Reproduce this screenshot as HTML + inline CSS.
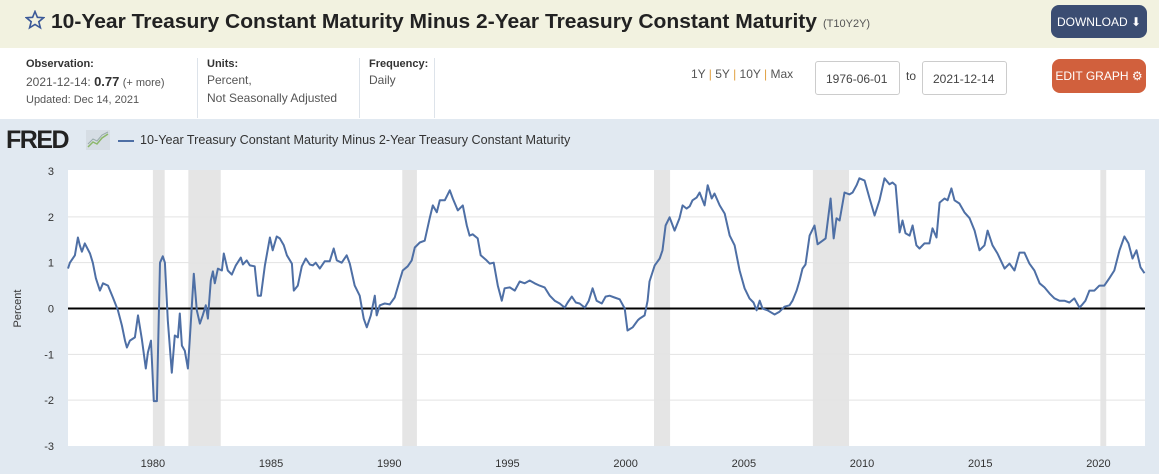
<!DOCTYPE html>
<html><head><meta charset="utf-8">
<style>
*{box-sizing:border-box;margin:0;padding:0}
body{width:1159px;height:474px;overflow:hidden;font-family:"Liberation Sans","DejaVu Sans",sans-serif;background:#fff;position:relative;color:#333}
.abs{position:absolute}
#hdr{left:0;top:0;width:1159px;height:48px;background:#f2f2e0}
.btn{color:#fff;border-radius:8px;font-size:12px;display:flex;align-items:center;justify-content:center;white-space:nowrap}
#dl{left:1051px;top:5px;width:96px;height:33px;background:#3b4d72}
#eg{left:1052px;top:59px;width:94px;height:34px;background:#d1603d}
.lab{font-size:11px;font-weight:bold;color:#333}
.val{font-size:12px;color:#555;line-height:18px}
.div{width:1px;background:#dde3ea;top:58px;height:60px}
.inp{border:1px solid #ccc;border-radius:3px;height:34px;top:61px;font-size:12px;color:#444;padding:10px 0 0 10px}
#band{left:0;top:119px;width:1159px;height:355px;background:#e1e9f1}
</style></head><body>
<div class="abs" id="hdr"></div>
<svg class="abs" style="left:25px;top:10px" width="20" height="20"><polygon points="10,1.5 12.4,7.3 18.6,7.7 13.8,11.7 15.4,17.8 10,14.4 4.6,17.8 6.2,11.7 1.4,7.7 7.6,7.3" fill="none" stroke="#3b5998" stroke-width="1.6"/></svg>
<svg class="abs" style="left:0;top:0" width="900" height="48"><text x="51" y="28" font-family="Liberation Sans, sans-serif" font-weight="bold" font-size="20" fill="#222" textLength="766" lengthAdjust="spacingAndGlyphs">10-Year Treasury Constant Maturity Minus 2-Year Treasury Constant Maturity</text><text x="823" y="27" font-family="Liberation Sans, sans-serif" font-size="11" fill="#555">(T10Y2Y)</text></svg>
<div class="abs btn" id="dl">DOWNLOAD&nbsp;⬇</div>

<div class="abs lab" style="left:26px;top:58px">Observation:</div>
<div class="abs val" style="left:26px;top:73px">2021-12-14: <b style="font-size:13px;color:#333">0.77</b> <span style="font-size:11px">(+ more)</span></div>
<div class="abs val" style="left:26px;top:91px;font-size:11px">Updated: Dec 14, 2021</div>
<div class="abs div" style="left:197px"></div>
<div class="abs lab" style="left:207px;top:58px">Units:</div>
<div class="abs val" style="left:207px;top:71px">Percent,<br>Not Seasonally Adjusted</div>
<div class="abs div" style="left:359px"></div>
<div class="abs lab" style="left:369px;top:58px">Frequency:</div>
<div class="abs val" style="left:369px;top:71px">Daily</div>
<div class="abs div" style="left:434px"></div>

<div class="abs" style="left:691px;top:67px;font-size:12px;color:#555">1Y <span style="color:#e0a040">|</span> 5Y <span style="color:#e0a040">|</span> 10Y <span style="color:#e0a040">|</span> Max</div>
<div class="abs inp" style="left:815px;width:85px">1976-06-01</div>
<div class="abs" style="left:906px;top:69px;font-size:12px;color:#444">to</div>
<div class="abs inp" style="left:922px;width:85px">2021-12-14</div>
<div class="abs btn" id="eg">EDIT GRAPH&nbsp;⚙</div>

<div class="abs" id="band"></div>
<div class="abs" style="left:6px;top:126px;font-size:25px;font-weight:900;color:#222;letter-spacing:-1.5px">FRED</div>
<svg class="abs" style="left:86px;top:130px" width="24" height="20"><rect width="24" height="20" fill="#d6dde4"/><polyline points="2,17 7,12 11,14 16,8 22,4" fill="none" stroke="#8cb76a" stroke-width="1.5"/><polyline points="2,14 7,9 11,11 16,5 22,2" fill="none" stroke="#9aa" stroke-width="1"/></svg>
<div class="abs" style="left:118px;top:140px;width:16px;height:2px;background:#4e6fa5"></div>
<div class="abs" style="left:140px;top:133px;font-size:12.6px;color:#333;white-space:nowrap">10-Year Treasury Constant Maturity Minus 2-Year Treasury Constant Maturity</div>

<svg id="chart" class="abs" style="left:0;top:0" width="1159" height="474"></svg>
<script>
const years=[1976.41,1976.49,1976.70,1976.83,1976.91,1977.00,1977.12,1977.34,1977.46,1977.59,1977.76,1977.89,1978.10,1978.31,1978.52,1978.69,1978.82,1978.90,1979.03,1979.24,1979.37,1979.53,1979.70,1979.79,1979.92,1980.04,1980.17,1980.30,1980.42,1980.51,1980.63,1980.80,1980.93,1981.06,1981.14,1981.23,1981.35,1981.48,1981.56,1981.73,1981.86,1981.99,1982.11,1982.24,1982.33,1982.45,1982.54,1982.62,1982.75,1982.92,1983.00,1983.17,1983.34,1983.51,1983.72,1983.81,1983.97,1984.10,1984.31,1984.44,1984.57,1984.74,1984.95,1985.07,1985.24,1985.37,1985.54,1985.67,1985.88,1985.96,1986.13,1986.30,1986.47,1986.64,1986.77,1986.89,1987.06,1987.27,1987.48,1987.65,1987.78,1987.99,1988.20,1988.33,1988.54,1988.75,1988.92,1989.05,1989.22,1989.39,1989.47,1989.60,1989.81,1990.02,1990.23,1990.44,1990.57,1990.78,1990.95,1991.08,1991.29,1991.50,1991.71,1991.84,1992.01,1992.14,1992.35,1992.56,1992.69,1992.90,1993.11,1993.28,1993.40,1993.53,1993.74,1993.87,1994.12,1994.25,1994.42,1994.59,1994.76,1994.88,1995.10,1995.31,1995.52,1995.73,1995.94,1996.15,1996.36,1996.57,1996.79,1997.00,1997.21,1997.42,1997.55,1997.72,1997.89,1998.05,1998.27,1998.44,1998.60,1998.77,1998.99,1999.15,1999.32,1999.53,1999.75,1999.96,2000.08,2000.30,2000.51,2000.59,2000.80,2000.93,2001.01,2001.23,2001.44,2001.56,2001.69,2001.86,2002.07,2002.28,2002.41,2002.58,2002.71,2002.83,2003.00,2003.13,2003.34,2003.47,2003.64,2003.76,2003.98,2004.19,2004.40,2004.61,2004.82,2005.03,2005.24,2005.41,2005.54,2005.67,2005.79,2006.00,2006.30,2006.51,2006.72,2006.93,2007.06,2007.23,2007.36,2007.48,2007.61,2007.78,2007.99,2008.12,2008.33,2008.46,2008.67,2008.80,2008.92,2009.05,2009.26,2009.47,2009.60,2009.77,2009.89,2010.11,2010.32,2010.53,2010.74,2010.95,2011.16,2011.29,2011.42,2011.59,2011.71,2011.84,2012.01,2012.14,2012.30,2012.43,2012.64,2012.85,2012.98,2013.15,2013.28,2013.49,2013.62,2013.78,2013.91,2014.12,2014.33,2014.55,2014.76,2014.97,2015.18,2015.31,2015.52,2015.73,2016.03,2016.24,2016.45,2016.66,2016.87,2017.08,2017.29,2017.51,2017.72,2017.93,2018.14,2018.35,2018.56,2018.77,2018.98,2019.20,2019.32,2019.45,2019.62,2019.83,2020.04,2020.25,2020.46,2020.67,2020.89,2021.10,2021.27,2021.44,2021.61,2021.78,2021.95];
const spread=[0.87,1.00,1.16,1.55,1.38,1.24,1.42,1.20,1.00,0.66,0.39,0.55,0.50,0.24,-0.04,-0.37,-0.70,-0.85,-0.70,-0.63,-0.15,-0.66,-1.31,-0.96,-0.70,-2.02,-2.02,1.00,1.14,1.00,-0.26,-1.40,-0.59,-0.63,-0.11,-0.81,-0.92,-1.31,-0.70,0.76,-0.04,-0.33,-0.15,0.07,-0.22,0.61,0.81,0.55,0.87,0.83,1.20,0.83,0.74,0.94,1.11,0.96,1.05,0.94,0.92,0.28,0.28,0.94,1.55,1.27,1.57,1.53,1.38,1.16,0.98,0.39,0.50,0.92,1.09,0.96,0.94,1.00,0.87,1.03,1.03,1.31,1.05,1.00,1.16,0.98,0.50,0.28,-0.22,-0.41,-0.15,0.28,-0.15,0.07,0.11,0.09,0.24,0.61,0.83,0.92,1.05,1.33,1.44,1.48,1.97,2.25,2.10,2.36,2.36,2.58,2.40,2.14,2.25,1.81,1.59,1.62,1.53,1.16,1.05,0.98,1.00,0.50,0.17,0.44,0.46,0.39,0.59,0.55,0.61,0.55,0.50,0.46,0.28,0.17,0.11,0.02,0.13,0.26,0.13,0.11,0.02,0.17,0.44,0.17,0.11,0.26,0.28,0.24,0.20,0.00,-0.48,-0.41,-0.26,-0.22,-0.15,0.17,0.59,0.94,1.09,1.27,1.81,1.99,1.70,1.97,2.25,2.18,2.23,2.36,2.42,2.53,2.25,2.69,2.40,2.51,2.25,2.07,1.59,1.38,0.83,0.44,0.22,0.13,-0.04,0.17,0.00,-0.04,-0.13,-0.07,0.04,0.07,0.17,0.39,0.61,0.87,0.96,1.59,1.81,1.40,1.48,1.53,2.40,1.53,1.97,1.92,2.53,2.49,2.53,2.69,2.84,2.79,2.40,2.03,2.36,2.84,2.71,2.75,2.69,1.66,1.92,1.64,1.59,1.81,1.38,1.31,1.42,1.42,1.75,1.55,2.31,2.40,2.36,2.62,2.36,2.29,2.10,1.97,1.70,1.27,1.38,1.70,1.38,1.20,0.87,0.98,0.83,1.22,1.22,0.98,0.83,0.55,0.46,0.33,0.22,0.17,0.17,0.13,0.22,0.02,0.09,0.17,0.39,0.39,0.50,0.50,0.66,0.83,1.27,1.57,1.42,1.09,1.27,0.90,0.77];
const recessionStarts=[1980.0,1981.5,1990.55,2001.2,2007.92,2020.08];
const recessionEnds=[1980.5,1982.87,1991.17,2001.88,2009.45,2020.33];
const yTicks=[-3,-2,-1,0,1,2,3];
const xTicks=[1980,1985,1990,1995,2000,2005,2010,2015,2020];

const L=68,R=1145,T=171,B=446,Y0=1976.41,Y1=2021.97,VMIN=-3,VMAX=3;
const xs=y=>L+(y-Y0)/(Y1-Y0)*(R-L);
const ys=v=>B-(v-VMIN)/(VMAX-VMIN)*(B-T);
const svg=document.getElementById('chart');
const NS='http://www.w3.org/2000/svg';
function mk(tag,attrs){const e=document.createElementNS(NS,tag);for(const k in attrs)e.setAttribute(k,attrs[k]);svg.appendChild(e);return e;}
let e=mk('rect',{x:L,y:T-1,width:R-L,height:B-T+1,fill:'#fff'});


recessionStarts.forEach((s,i)=>{
  const r=mk('rect',{x:xs(s),y:T-1,width:xs(recessionEnds[i])-xs(s),height:B-T+1,fill:'#e5e5e5'});
  
  
});
yTicks.forEach(v=>{
  if(v!==0&&v!==3&&v!==-3){const g=mk('line',{x1:L,x2:R,y1:ys(v),y2:ys(v),stroke:'#e3e3e3','stroke-width':1});
  
  }
  const t=mk('text',{x:54,y:ys(v)+4,'text-anchor':'end','font-size':11,fill:'#333','font-family':'Liberation Sans, sans-serif'});
  t.textContent=v;
  
  
});
xTicks.forEach(y=>{
  const t=mk('text',{x:xs(y),y:467,'text-anchor':'middle','font-size':11,fill:'#333','font-family':'Liberation Sans, sans-serif'});
  t.textContent=y;
  
  
});
const at=mk('text',{x:0,y:0,'text-anchor':'middle','font-size':11,fill:'#333','font-family':'Liberation Sans, sans-serif',transform:'translate(21,'+ys(0)+') rotate(-90)'});
at.textContent='Percent';


const zl=mk('line',{x1:L,x2:R,y1:ys(0),y2:ys(0),stroke:'#000','stroke-width':2});


const pts=years.map((y,i)=>xs(y).toFixed(1)+','+ys(spread[i]).toFixed(1)).join(' ');
const pl=mk('polyline',{points:pts,fill:'none',stroke:'#4e6fa5','stroke-width':2,'stroke-linejoin':'round'});


</script>
</body></html>
